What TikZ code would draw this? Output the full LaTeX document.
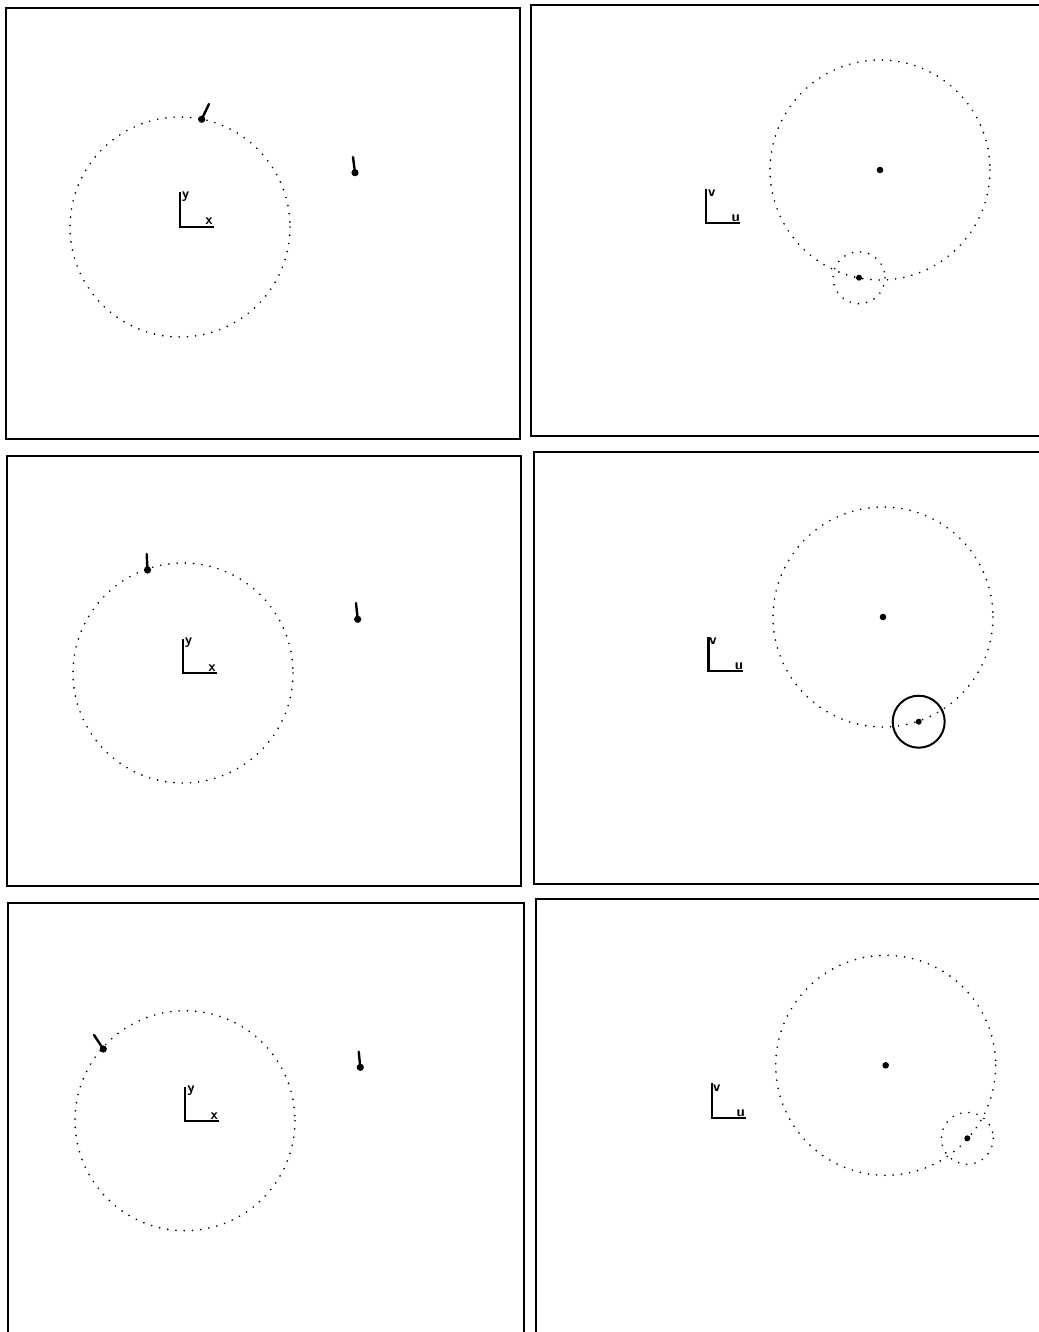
\documentclass[tikz,border=0pt]{standalone}
\begin{document}
\begin{tikzpicture}[x=0.75pt,y=-0.75pt,
  frame/.style={line width=2.1pt},
  ring/.style={line width=1.4pt, line cap=round, dash pattern=on 0pt off 6.2pt},
  wheel/.style={line width=1.5pt},
  axis/.style={line width=1.7pt},
  stick/.style={line width=1.8pt, line cap=round},
  lbl/.style={font=\sffamily\bfseries\fontsize{11}{11}\selectfont, inner sep=0pt}]
\useasboundingbox (0,0) rectangle (1039,1332);
% frames
\draw[frame] (6,8) rectangle (520,439);
\draw[frame] (531,5) rectangle (1046,436);
\draw[frame] (7,456) rectangle (521,886);
\draw[frame] (534,452) rectangle (1046,884);
\draw[frame] (8,903) rectangle (524,1340);
\draw[frame] (536,899) rectangle (1046,1340);

% ---------- top left
\coordinate (o1) at (180,227);
\draw[ring] (o1) circle (110);
\draw[axis] (o1) ++(0,-35) -- (o1) -- ++(34,0);
\node[lbl] (y1) at (185.5,197) {y};
\node[lbl] (x1) at (209,221) {x};
\coordinate (m1) at (201.7,119.3);
\coordinate (m1t) at (209,104);
\fill (m1) circle (3.6);
\draw[stick] (m1) -- (m1t);
\coordinate (s1) at (355,172.7);
\coordinate (s1t) at (353,157);
\fill (s1) circle (3.6);
\draw[stick] (s1) -- (s1t);

% ---------- top right
\coordinate (c2) at (880,170);
\coordinate (w2) at (859,277.7);
\coordinate (a2) at (706,223);
\draw[ring] (c2) circle (110);
\draw[ring] (w2) circle (26);
\fill (c2) circle (3.3);
\fill (w2) circle (3);
\draw[axis] (a2) ++(0,-34) -- (a2) -- ++(34,0);
\node[lbl] (v2) at (711.7,193) {v};
\node[lbl] (u2) at (735.7,218) {u};

% ---------- middle left
\coordinate (o3) at (183,673);
\draw[ring] (o3) circle (110);
\draw[axis] (o3) ++(0,-34) -- (o3) -- ++(34,0);
\node[lbl] (y3) at (188.5,643) {y};
\node[lbl] (x3) at (212,668) {x};
\coordinate (m3) at (147.5,570);
\coordinate (m3t) at (146.7,554);
\fill (m3) circle (3.6);
\draw[stick] (m3) -- (m3t);
\coordinate (s3) at (357.7,619.3);
\coordinate (s3t) at (356,603);
\fill (s3) circle (3.6);
\draw[stick] (s3) -- (s3t);

% ---------- middle right
\coordinate (c4) at (883,617);
\coordinate (w4) at (918.7,721.7);
\coordinate (a4) at (708.5,670.7);
\draw[ring] (c4) circle (110);
\draw[wheel] (w4) circle (26);
\fill (c4) circle (3.3);
\fill (w4) circle (3);
\draw[axis] (a4) ++(0,-34) -- (a4) -- ++(34,0);
\node[lbl] (v4) at (713,641) {v};
\node[lbl] (u4) at (739,666) {u};

% ---------- bottom left
\coordinate (o5) at (185,1120.7);
\draw[ring] (o5) circle (110);
\draw[axis] (o5) ++(0,-34) -- (o5) -- ++(34,0);
\node[lbl] (y5) at (191,1091) {y};
\node[lbl] (x5) at (214.3,1116) {x};
\coordinate (m5) at (103.3,1049);
\coordinate (m5t) at (94,1035);
\fill (m5) circle (3.6);
\draw[stick] (m5) -- (m5t);
\coordinate (s5) at (360.3,1067.3);
\coordinate (s5t) at (358.7,1051.7);
\fill (s5) circle (3.6);
\draw[stick] (s5) -- (s5t);

% ---------- bottom right
\coordinate (c6) at (885.7,1065.3);
\coordinate (w6) at (967.3,1138.3);
\coordinate (a6) at (711.7,1118.3);
\draw[ring] (c6) circle (110);
\draw[ring] (w6) circle (26);
\fill (c6) circle (3.3);
\fill (w6) circle (3);
\draw[axis] (a6) ++(0,-35) -- (a6) -- ++(34,0);
\node[lbl] (v6) at (716.7,1088) {v};
\node[lbl] (u6) at (740.7,1113) {u};
\end{tikzpicture}
\end{document}
